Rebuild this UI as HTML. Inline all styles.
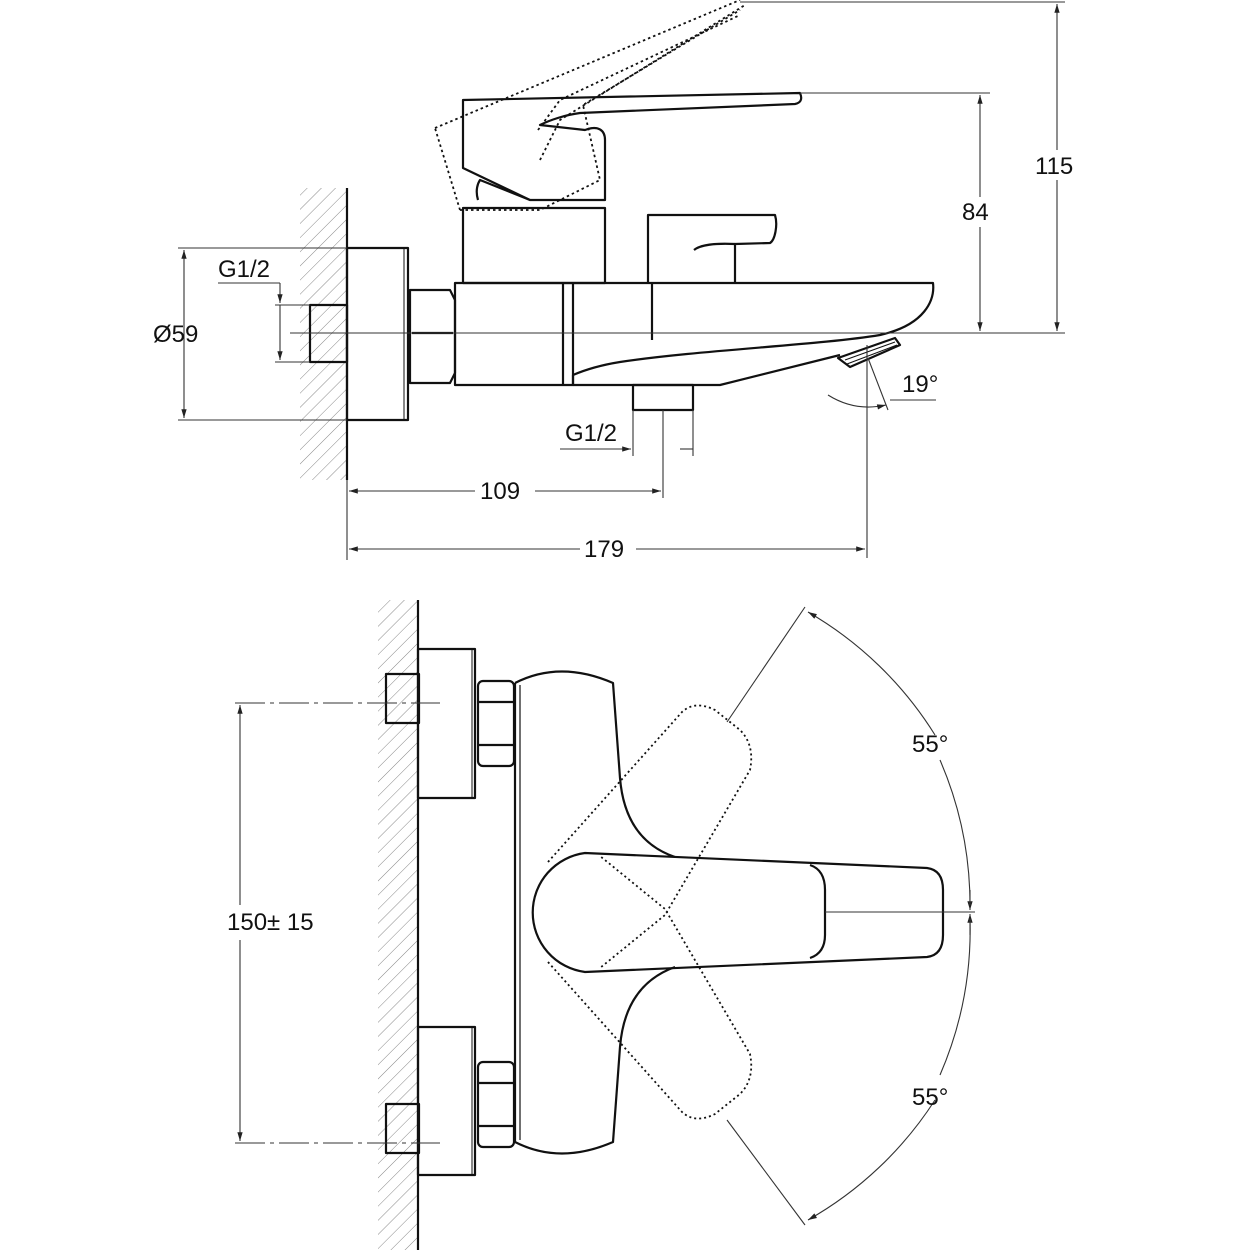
<!DOCTYPE html>
<html><head><style>
html,body{margin:0;padding:0;background:#fff;}
svg{display:block;}
text{font-family:"Liberation Sans",sans-serif;font-size:24px;fill:#111;}
</style></head><body>
<svg width="1250" height="1250" viewBox="0 0 1250 1250" xmlns="http://www.w3.org/2000/svg">
<defs>
<pattern id="h" width="10" height="10" patternUnits="userSpaceOnUse" patternTransform="rotate(45)">
<line x1="0" y1="0" x2="0" y2="10" stroke="#888" stroke-width="1"/>
</pattern>
<marker id="a" viewBox="0 0 10 10" refX="10" refY="5" markerWidth="10" markerHeight="8" orient="auto-start-reverse">
<path d="M0,2 L10,5 L0,8 z" fill="#222"/></marker>
</defs>
<g fill="none" stroke="#111" stroke-width="2.2" stroke-linejoin="round">
<rect x="300" y="188" width="47" height="292" fill="url(#h)" stroke="none"/>
<line x1="347" y1="188" x2="347" y2="480"/>
<rect x="347" y="248" width="61" height="172"/>
<line x1="404" y1="248" x2="404" y2="420" stroke-width="1"/>
<rect x="310" y="305" width="37" height="57"/>
<path d="M410,290 H450 L455,300 V373 L450,383 H410 Z"/>
<line x1="412" y1="333" x2="453" y2="333"/>
<path d="M455,283 H933 C935,300 925,325 880,335 C820,345 700,350 620,362 C595,366 580,372 573,375 V385 H455 Z"/>
<path d="M573,385 H720 L840,355"/>
<line x1="563" y1="283" x2="563" y2="385"/>
<line x1="573" y1="283" x2="573" y2="385"/>
<line x1="652" y1="283" x2="652" y2="340"/>
<path d="M838,358 L895,338 L900,345 L850,367 Z"/>
<line x1="845" y1="360" x2="895" y2="342" stroke-width="1"/>
<line x1="847" y1="364" x2="897" y2="345" stroke-width="1"/>
<rect x="633" y="385" width="60" height="25"/>
<rect x="463" y="208" width="142" height="75"/>
<path d="M478,200 C475,190 478,183 480,180 L530,200"/>
<path d="M463,100 L800,93 C803,100 800,103 795,104 L580,113 C565,115 550,120 540,125 L585,130 C598,125 605,130 605,140 V200 H530 L463,168 Z"/>
<path d="M648,283 V215 H775 C778,225 775,240 770,243 L735,244 V283"/>
<path d="M735,244 C715,243 700,245 694,250"/>
<g stroke-dasharray="2.5,3" stroke-width="1.8">
<path d="M435,128 L740,0 M460,210 L435,128 M460,210 H540 L600,180 L583,105 L740,10 M540,160 L560,120 L745,5"/>
<path d="M538,130 L560,100 L740,15"/>
</g>
</g>
<g fill="none" stroke="#333" stroke-width="1.1">
<line x1="290" y1="333" x2="1065" y2="333"/>
<line x1="740" y1="2" x2="1065" y2="2"/>
<line x1="800" y1="93" x2="990" y2="93"/>
<line x1="1057" y1="4" x2="1057" y2="331" marker-start="url(#a)" marker-end="url(#a)"/>
<line x1="980" y1="95" x2="980" y2="331" marker-start="url(#a)" marker-end="url(#a)"/>
<line x1="178" y1="248" x2="347" y2="248"/>
<line x1="178" y1="420" x2="347" y2="420"/>
<line x1="184" y1="250" x2="184" y2="418" marker-start="url(#a)" marker-end="url(#a)"/>
<line x1="218" y1="283" x2="280" y2="283"/>
<line x1="275" y1="305" x2="310" y2="305"/>
<line x1="275" y1="362" x2="310" y2="362"/>
<line x1="280" y1="283" x2="280" y2="303" marker-end="url(#a)"/>
<line x1="280" y1="305" x2="280" y2="360" marker-end="url(#a)"/>
<line x1="633" y1="410" x2="633" y2="456"/>
<line x1="693" y1="410" x2="693" y2="456"/>
<line x1="663" y1="410" x2="663" y2="498"/>
<line x1="560" y1="449" x2="631" y2="449" marker-end="url(#a)"/>
<line x1="693" y1="449" x2="680" y2="449"/>
<line x1="349" y1="491" x2="475" y2="491" marker-start="url(#a)"/>
<line x1="535" y1="491" x2="661" y2="491" marker-end="url(#a)"/>
<line x1="347" y1="480" x2="347" y2="560"/>
<line x1="867" y1="345" x2="867" y2="558"/>
<line x1="349" y1="549" x2="580" y2="549" marker-start="url(#a)"/>
<line x1="636" y1="549" x2="865" y2="549" marker-end="url(#a)"/>
<line x1="868" y1="358" x2="888" y2="410"/>
<line x1="890" y1="400" x2="936" y2="400"/>
<path d="M828,395 Q855,412 886,405" marker-end="url(#a)"/>
</g>
<rect x="1036" y="150" width="44" height="30" fill="#fff"/>
<rect x="960" y="197" width="34" height="30" fill="#fff"/>
<text x="1035" y="174">115</text>
<text x="962" y="220">84</text>
<text x="153" y="342">Ø59</text>
<text x="218" y="277">G1/2</text>
<text x="902" y="392">19°</text>
<text x="565" y="441">G1/2</text>
<text x="480" y="499">109</text>
<text x="584" y="557">179</text>

<g fill="none" stroke="#111" stroke-width="2.2" stroke-linejoin="round">
<rect x="378" y="600" width="40" height="650" fill="url(#h)" stroke="none"/>
<line x1="418" y1="600" x2="418" y2="1250"/>
<rect x="418" y="649" width="57" height="149"/>
<rect x="418" y="1027" width="57" height="148"/>
<line x1="472" y1="649" x2="472" y2="798" stroke-width="1"/>
<line x1="472" y1="1027" x2="472" y2="1175" stroke-width="1"/>
<rect x="386" y="674" width="33" height="49"/>
<rect x="386" y="1104" width="33" height="49"/>
<rect x="478" y="681" width="36" height="85" rx="5"/>
<line x1="478" y1="702" x2="514" y2="702"/><line x1="478" y1="745" x2="514" y2="745"/>
<rect x="478" y="1062" width="36" height="85" rx="5"/>
<line x1="478" y1="1083" x2="514" y2="1083"/><line x1="478" y1="1126" x2="514" y2="1126"/>
<path d="M515,683 Q560,660 613,683 L620,778 Q625,840 675,857"/>
<path d="M515,1142 Q560,1165 613,1142 L620,1047 Q625,985 675,967"/>
<line x1="515" y1="683" x2="515" y2="1142"/>
<line x1="520" y1="685" x2="520" y2="1140" stroke-width="1.2"/>
<path d="M585,853 L927,868 Q943,870 943,890 V935 Q943,955 927,957 L585,972 A60,60 0 0 1 585,853 Z"/>
<path d="M810,865 Q825,870 825,890 V935 Q825,953 810,958"/>
<g stroke-dasharray="2,3" stroke-width="1.8">
<path d="M548,862 L682,712 Q695,700 715,710 L740,730 Q755,745 750,770 L665,915 L600,968"/>
<path d="M548,962 L682,1112 Q695,1124 715,1114 L740,1094 Q755,1079 750,1054 L665,909 L600,856"/>
</g>
</g>
<g fill="none" stroke="#333" stroke-width="1.1">
<line x1="825" y1="912" x2="975" y2="912"/>
<line x1="970" y1="890" x2="970" y2="910" marker-end="url(#a)"/>
<line x1="970" y1="935" x2="970" y2="914" marker-end="url(#a)"/>
<line x1="805" y1="607" x2="727" y2="722"/>
<line x1="805" y1="1225" x2="727" y2="1120"/>
<path d="M808,612 A365,365 0 0 1 935,735" marker-start="url(#a)"/>
<path d="M940,760 A365,365 0 0 1 970,905"/>
<path d="M970,919 A365,365 0 0 1 940,1075"/>
<path d="M935,1100 A365,365 0 0 1 808,1220" marker-end="url(#a)"/>
<line x1="235" y1="703" x2="440" y2="703" stroke-dasharray="30,5,4,5"/>
<line x1="235" y1="1143" x2="440" y2="1143" stroke-dasharray="30,5,4,5"/>
<line x1="240" y1="705" x2="240" y2="905" marker-start="url(#a)"/>
<line x1="240" y1="940" x2="240" y2="1141" marker-end="url(#a)"/>
</g>
<text x="912" y="752">55°</text>
<text x="912" y="1105">55°</text>
<text x="227" y="930">150± 15</text>
</svg>
</body></html>
